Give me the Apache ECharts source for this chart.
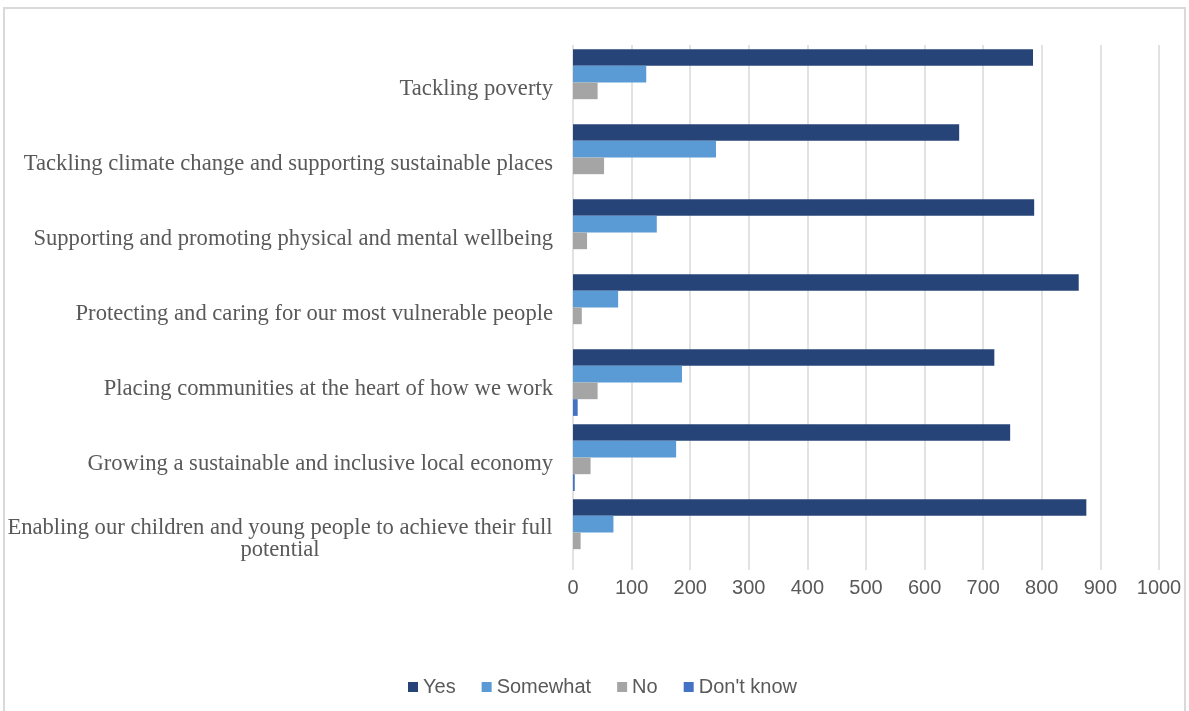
<!DOCTYPE html>
<html>
<head>
<meta charset="utf-8">
<script src="https://cdn.jsdelivr.net/npm/echarts@6/dist/echarts.min.js"></script>
<style>
html,body{margin:0;padding:0;background:#fff;}
#frame{position:absolute;left:3px;top:7px;width:1183px;height:720px;border:2px solid #d9d9d9;box-sizing:border-box;}
#chart{position:absolute;left:0;top:0;width:1189px;height:711px;}
</style>
</head>
<body>
<div id="frame"></div>
<div id="chart"></div>
<script>
const categories = [
  "Tackling poverty",
  "Tackling climate change and supporting sustainable places",
  "Supporting and promoting physical and mental wellbeing",
  "Protecting and caring for our most vulnerable people",
  "Placing communities at the heart of how we work",
  "Growing a sustainable and inclusive local economy",
  "Enabling our children and young people to achieve their full potential"
];
const seriesNames = ["Yes", "Somewhat", "No", "Don't know"];
const yesValues = [785, 659, 787, 863, 719, 746, 876];
const somewhatValues = [125, 244, 143, 77, 186, 176, 69];
const noValues = [42, 53, 24, 15, 42, 30, 13];
const dontKnowValues = [0, 0, 0, 0, 8, 3, 0];
const xTicks = [0, 100, 200, 300, 400, 500, 600, 700, 800, 900, 1000];

const colors = ["#264478", "#5B9BD5", "#A5A5A5", "#4472C4"];
const allValues = [yesValues, somewhatValues, noValues, dontKnowValues];

const chart = echarts.init(document.getElementById('chart'), null, {renderer: 'canvas'});
const option = {
  animation: false,
  color: colors,
  grid: {left: 573, right: 30, top: 45, bottom: 141, containLabel: false},
  legend: {
    data: seriesNames,
    top: 672,
    left: 403,
    itemWidth: 10,
    itemHeight: 10,
    itemGap: 26,
    icon: 'rect',
    textStyle: {fontFamily: 'Liberation Sans, Arial, sans-serif', fontSize: 20, color: '#595959'}
  },
  xAxis: {
    type: 'value',
    min: xTicks[0],
    max: xTicks[xTicks.length - 1],
    interval: 100,
    axisLine: {show: false},
    axisTick: {show: false},
    splitLine: {lineStyle: {color: '#d9d9d9', width: 1.5}},
    axisLabel: {
      fontFamily: 'Liberation Sans, Arial, sans-serif', fontSize: 20, color: '#595959', margin: 8,
      formatter: function (v) { return String(v); }
    }
  },
  yAxis: {
    type: 'category',
    data: categories,
    inverse: true,
    axisLine: {show: false},
    axisTick: {show: false},
    axisLabel: {
      fontFamily: 'Liberation Serif, Times New Roman, serif',
      fontSize: 22.6,
      color: '#595959',
      margin: 20,
      padding: [14, 0, 0, 0],
      lineHeight: 22,
      formatter: function (v) {
        if (v.indexOf('achieve their full potential') >= 0) {
          return '{c|Enabling our children and young people to achieve their full}\n{c|potential}';
        }
        return v;
      },
      rich: {
        c: {fontFamily: 'Liberation Serif, Times New Roman, serif', fontSize: 22.6, color: '#595959', width: 546, align: 'center', lineHeight: 22}
      }
    }
  },
  series: seriesNames.map((n, i) => ({
    name: n,
    type: 'bar',
    data: allValues[i],
    barGap: '0%',
    barCategoryGap: '11%',
    itemStyle: {color: colors[i]}
  }))
};
chart.setOption(option);
</script>
</body>
</html>
